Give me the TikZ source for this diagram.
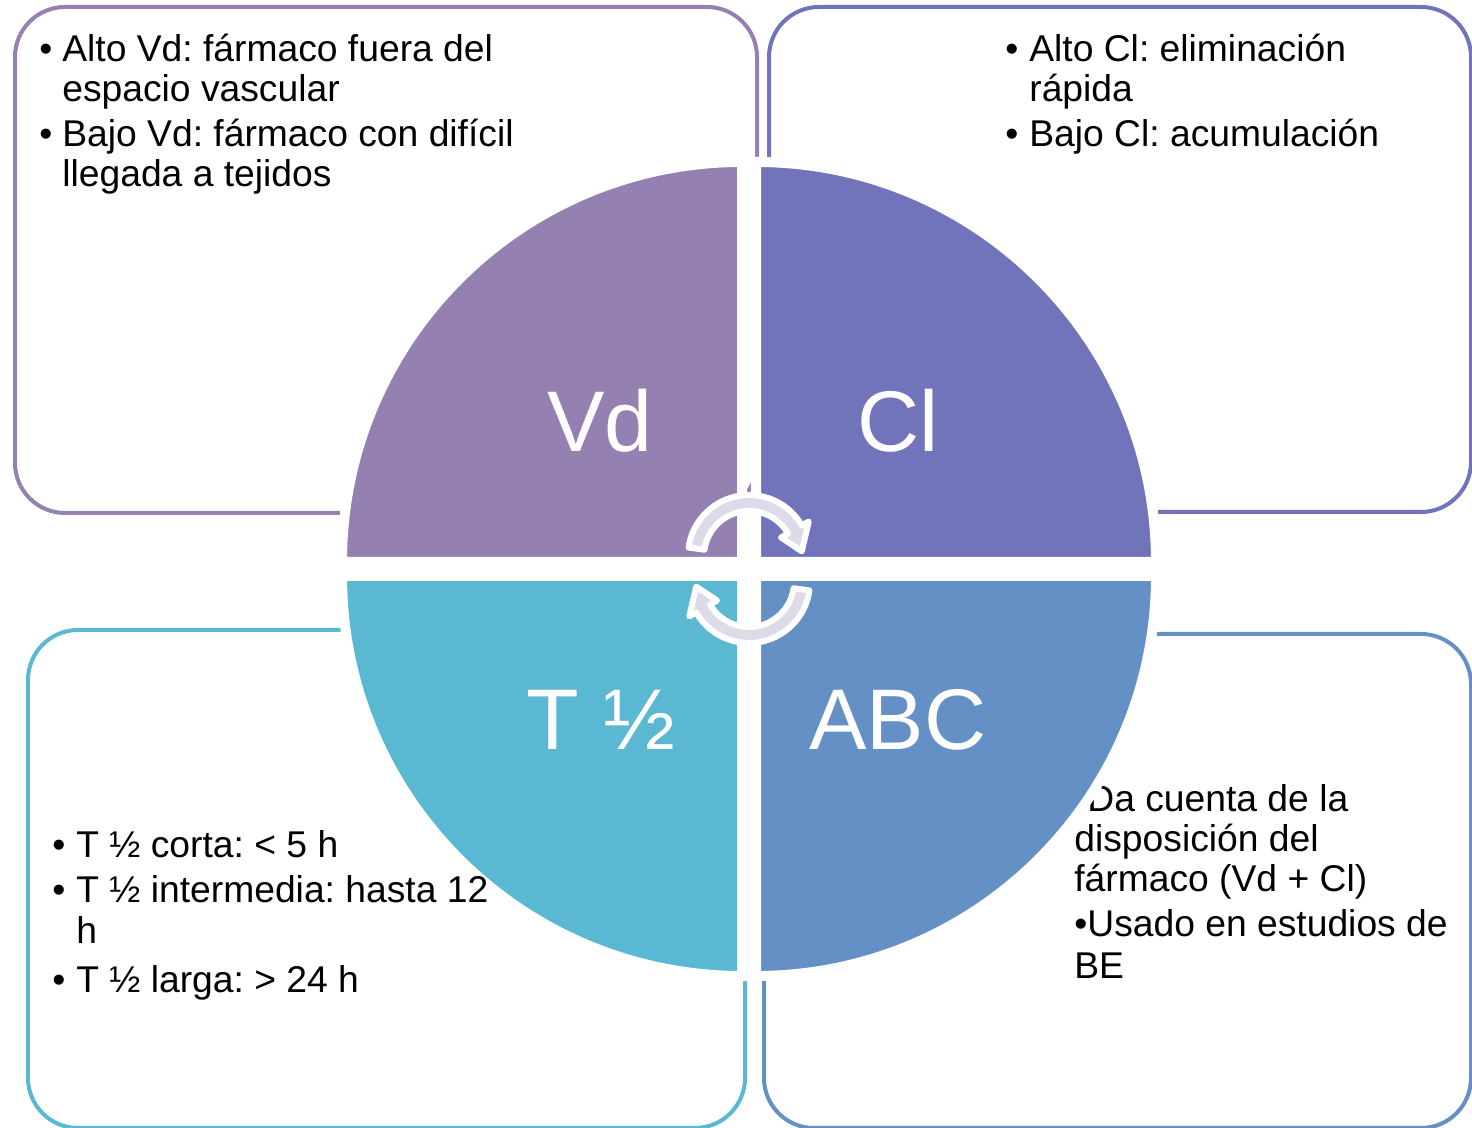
\documentclass[tikz,border=0pt]{standalone}
\usepackage{fontspec}
\setmainfont{Liberation Sans}
\frenchspacing
\definecolor{vdcol}{HTML}{9580B2}
\definecolor{clcol}{HTML}{7174BB}
\definecolor{tcol}{HTML}{5BB8D2}
\definecolor{abccol}{HTML}{6490C6}
\definecolor{arrcol}{HTML}{DEDBE8}
\begin{document}
\begin{tikzpicture}[x=0.02cm,y=0.02cm,
  box/.style={line width=0.08cm,rounded corners=1cm,fill=white},
  pie/.style={draw=white,line width=0.2cm},
  txt/.style={anchor=base west,inner sep=0,font=\fontsize{21.2}{22.8}\selectfont},
  big/.style={anchor=base,inner sep=0,text=white,font=\fontsize{49}{50}\selectfont},
  cyc/.style={fill=arrcol,draw=white,line width=0.12cm,line join=round}]
\useasboundingbox (0,0) rectangle (1472,1128);
\clip (0,0) rectangle (1472,1128);
% boxes behind the circle
\draw[box,draw=vdcol] (15,615) rectangle (757,1121);
\draw[box,draw=clcol] (769,616) rectangle (1471,1121);
\draw[box,draw=tcol] (28,0) rectangle (745,498);
\draw[box,draw=abccol] (764,0) rectangle (1471,494);
% Vd text
\node[txt] (vdb1) at (39,1066) {•};
\node[txt] (vd1) at (62,1066) {Alto Vd: fármaco fuera del};
\node[txt] (vd1c) at (62,1026) {espacio vascular};
\node[txt] (vdb2) at (39,981) {•};
\node[txt] (vd2) at (62,981) {Bajo Vd: fármaco con difícil};
\node[txt] (vd2c) at (62,941) {llegada a tejidos};
% Cl text
\node[txt] (clb1) at (1005,1066) {•};
\node[txt] (cl1) at (1029,1066) {Alto Cl: eliminación};
\node[txt] (cl1c) at (1029,1026) {rápida};
\node[txt] (clb2) at (1005,981) {•};
\node[txt] (cl2) at (1029,981) {Bajo Cl: acumulación};
% ABC text
\node[txt] (abc1) at (1074,316) {•Da cuenta de la};
\node[txt] (abc1b) at (1074,276) {disposición del};
\node[txt] (abc1c) at (1074,236) {fármaco (Vd + Cl)};
\node[txt] (abc2) at (1074,191) {•Usado en estudios de};
\node[txt] (abc2b) at (1074,149) {BE};
% quarters
\draw[pie,fill=vdcol] (742,566) -- (342,566) arc (180:90:400) -- cycle;
\draw[pie,fill=clcol] (756,566) -- (756,966) arc (90:0:400) -- cycle;
\draw[pie,fill=tcol] (742,552) -- (342,552) arc (180:270:400) -- cycle;
\draw[pie,fill=abccol] (756,552) -- (756,152) arc (270:360:400) -- cycle;
\node[big] (vd) at (600,676) {Vd};
\node[big] (cl) at (898,676) {Cl};
\node[big] (thalf) at (601,378) {T ½};
\node[big] (abc) at (898,378) {ABC};
% T 1/2 text
\node[txt] (tb1) at (52,270) {•};
\node[txt] (t1) at (76,270) {T ½ corta: < 5 h};
\node[txt] (tb2) at (52,225) {•};
\node[txt] (t2) at (76,225) {T ½ intermedia: hasta 12};
\node[txt] (t2c) at (76,184) {h};
\node[txt] (tb3) at (52,135) {•};
\node[txt] (t3) at (76,135) {T ½ larga: > 24 h};
% cycle arrows
\coordinate (c1) at (749,572);
\coordinate (c2) at (749,546);
\begin{scope}[shift={(c1)}]
\draw[cyc] (172:61) arc (172:30:61) -- (30:69) -- (5:53) -- (30:37) -- (30:45) arc (30:172:45) -- cycle;
\end{scope}
\begin{scope}[shift={(c2)}]
\draw[cyc] (352:61) arc (352:210:61) -- (210:69) -- (185:53) -- (210:37) -- (210:45) arc (210:352:45) -- cycle;
\end{scope}
\end{tikzpicture}
\end{document}
